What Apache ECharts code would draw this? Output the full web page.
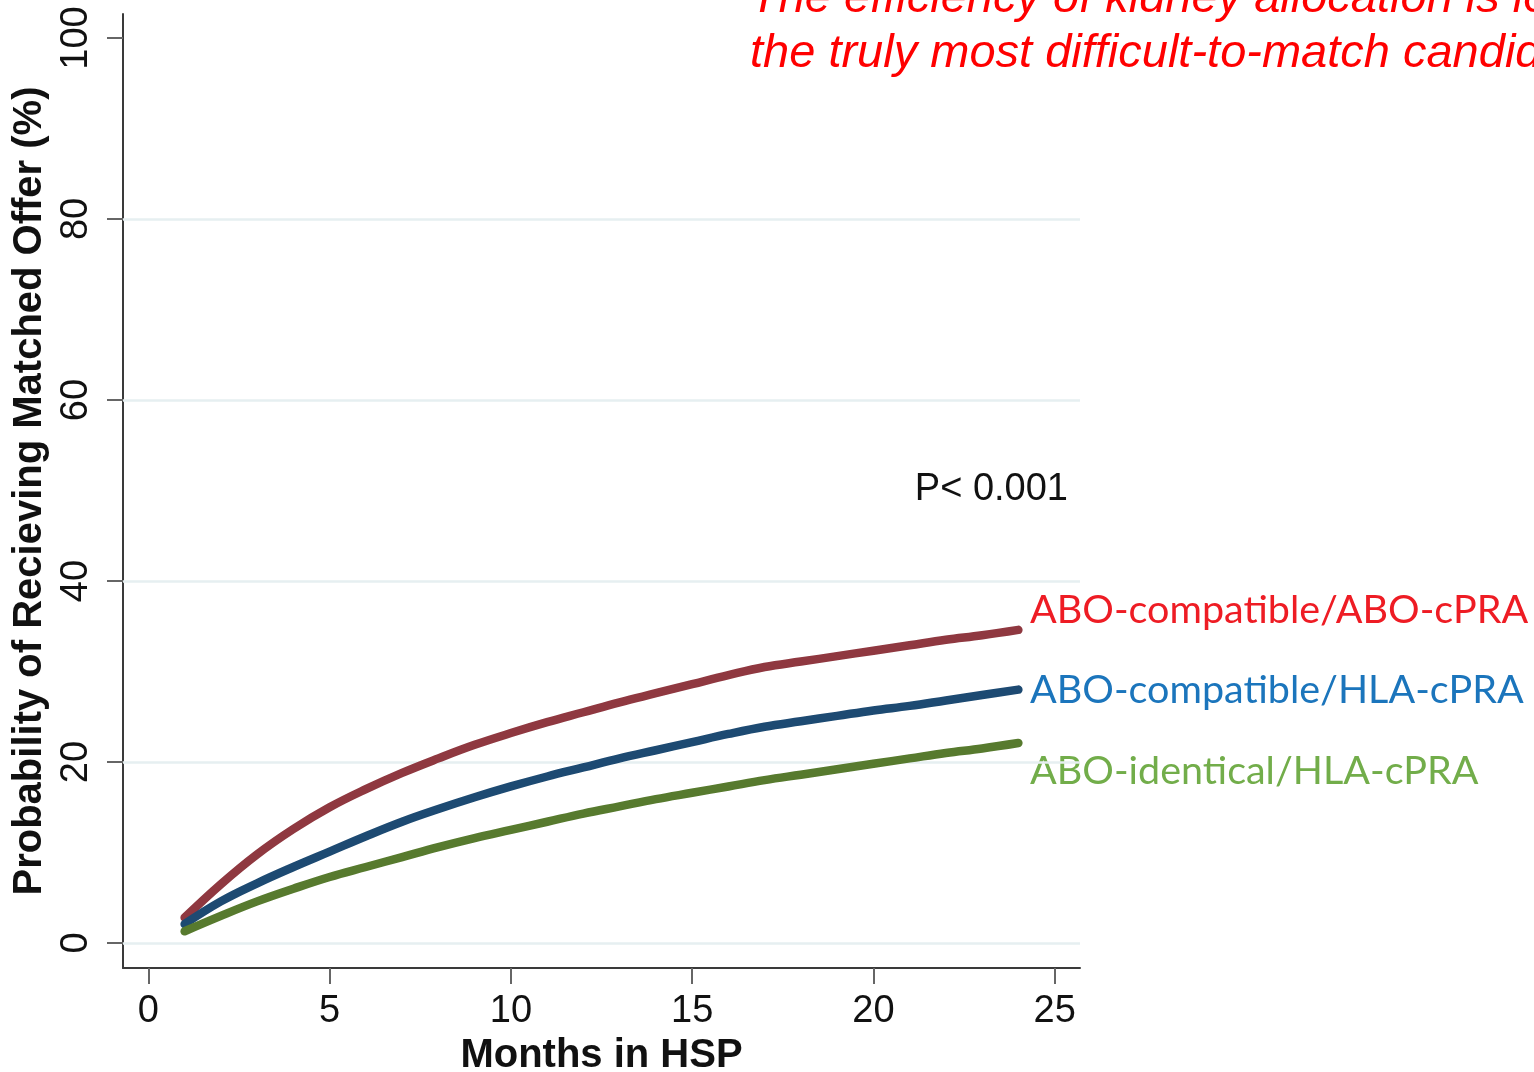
<!DOCTYPE html>
<html>
<head>
<meta charset="utf-8">
<script src="https://cdn.jsdelivr.net/npm/echarts@6/dist/echarts.min.js"></script>
<style>
html,body{margin:0;padding:0;background:#fff;}
#chart{width:1534px;height:1072px;}
</style>
</head>
<body>
<div id="chart"></div>
<script>
// ---- data ----
const months = [1,2,3,4,5,6,7,8,9,10,11,12,13,14,15,16,17,18,19,20,21,22,23,24];
const aboCompatAboCpra = [2.8,6.5,9.8,12.6,15.0,17.0,18.8,20.4,21.9,23.2,24.4,25.5,26.6,27.6,28.6,29.6,30.5,31.1,31.7,32.3,32.9,33.5,34.0,34.6];
const aboCompatHlaCpra = [2.1,4.6,6.6,8.4,10.1,11.8,13.4,14.8,16.1,17.3,18.4,19.4,20.4,21.3,22.2,23.1,23.9,24.5,25.1,25.7,26.2,26.8,27.4,28.0];
const aboIdentHlaCpra = [1.3,3.0,4.6,6.0,7.3,8.4,9.5,10.6,11.6,12.5,13.4,14.3,15.1,15.9,16.6,17.3,18.0,18.6,19.2,19.8,20.4,21.0,21.5,22.1];
const seriesNames = ['ABO-compatible/ABO-cPRA','ABO-compatible/HLA-cPRA','ABO-identical/HLA-cPRA'];
const xTicks = [0,5,10,15,20,25];
const yTicks = [0,20,40,60,80,100];
const gridLines = [0,20,40,60,80];
const pText = 'P< 0.001';
const titleLines = ['The efficiency of kidney allocation is lowest for','the truly most difficult-to-match candidates'];

const lineColors = ['#8f3840','#1d4a72','#577a2e'];
const labelColors = ['#ee1c24','#1b75bc','#72ad4a'];

const chart = echarts.init(document.getElementById('chart'));
const series = [aboCompatAboCpra, aboCompatHlaCpra, aboIdentHlaCpra].map((vals, i) => ({
  name: seriesNames[i],
  type: 'line',
  smooth: 0.4,
  showSymbol: false,
  z: 5,
  lineStyle: {color: lineColors[i], width: 8.5, cap: 'round', join: 'round'},
  data: months.map((m, j) => [m, vals[j]])
}));
series.push({
  type: 'line', data: [], silent: true, z: 1,
  markLine: {
    silent: true, symbol: ['none','none'], label: {show: false},
    lineStyle: {color: '#e6eff1', width: 2.5, type: 'solid'},
    data: gridLines.map(v => ({yAxis: v}))
  }
});

const labelYs = [611, 691, 772];

chart.setOption({
  animation: false,
  backgroundColor: '#ffffff',
  grid: {left: 123, right: 454, top: 14, bottom: 104, containLabel: false, outerBoundsMode: 'none'},
  xAxis: {
    type: 'value', min: -0.7, max: 25.7,
    axisLine: {onZero: false, lineStyle: {color: '#3a3a3a', width: 2}},
    axisTick: {show: true, length: 16, customValues: xTicks, lineStyle: {color: '#666', width: 2}},
    axisLabel: {customValues: xTicks, margin: 25, color: '#111', fontSize: 38, fontFamily: 'Liberation Sans'},
    splitLine: {show: false},
    name: 'Months in HSP', nameLocation: 'middle', nameGap: 66,
    nameTextStyle: {fontSize: 40, fontWeight: 'bold', color: '#111', fontFamily: 'Liberation Sans'}
  },
  yAxis: {
    type: 'value', min: -2.76, max: 102.65,
    axisLine: {onZero: false, lineStyle: {color: '#3a3a3a', width: 2}},
    axisTick: {show: true, length: 16, customValues: yTicks, lineStyle: {color: '#666', width: 2}},
    axisLabel: {customValues: yTicks, rotate: 90, margin: 27, color: '#111', fontSize: 38, fontFamily: 'Liberation Sans'},
    splitLine: {show: false},
    name: 'Probability of Recieving Matched Offer (%)', nameLocation: 'middle', nameGap: 66, nameRotate: 90,
    nameTextStyle: {fontSize: 40, fontWeight: 'bold', color: '#111', fontFamily: 'Liberation Sans'}
  },
  series: series,
  graphic: [
    {type: 'text', left: 750, top: -25, style: {text: titleLines[0], fill: '#ff0000', font: 'italic 47px "Liberation Sans"'}},
    {type: 'text', left: 750, top: 30, style: {text: titleLines[1], fill: '#ff0000', font: 'italic 47px "Liberation Sans"'}},
    {type: 'text', right: 1534 - 1068, top: 471, style: {text: pText, fill: '#111', font: '38px "Liberation Sans"'}}
  ].concat(seriesNames.map((n, i) => ({
    type: 'text', left: 1030, top: labelYs[i] - 21,
    style: {text: n, fill: labelColors[i], font: '39.5px Lato', backgroundColor: '#fff'}
  })))
});
</script>
</body>
</html>
